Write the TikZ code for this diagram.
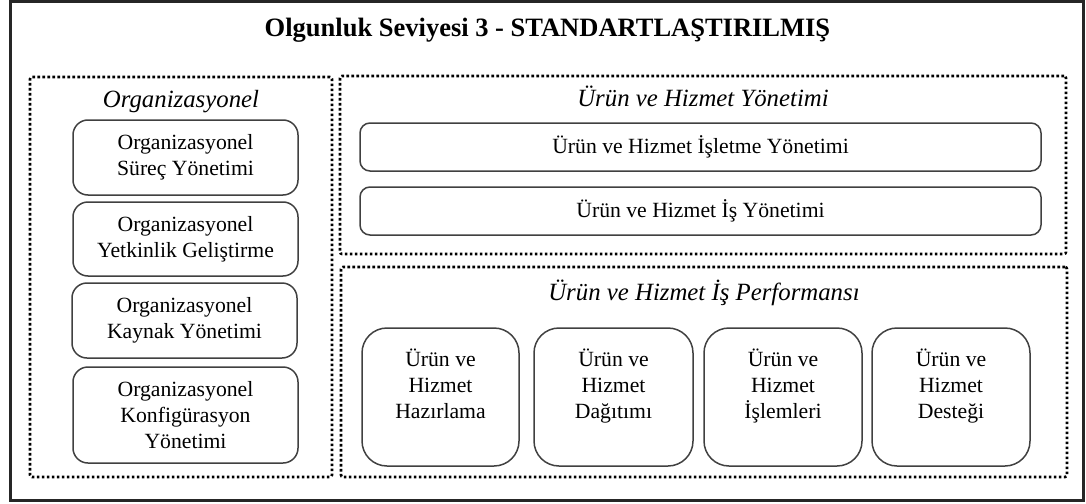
\documentclass[tikz,border=0pt]{standalone}
\usepackage{fontspec}
\setmainfont{Liberation Serif}
\begin{document}
\begin{tikzpicture}[x=1pt,y=-1pt,
  frame/.style={draw=black!85, line width=3pt},
  group/.style={draw=black, line width=2.6pt, dash pattern=on 2.6pt off 2.4pt,
    rounded corners=2pt, inner sep=0pt},
  item/.style={draw=black!75, line width=1.5pt, rounded corners=#1, fill=white,
    align=center, inner sep=0pt, font=\fontsize{21.7}{26}\selectfont},
  heading/.style={anchor=base, inner sep=0pt, font=\fontsize{24.8}{28}\selectfont\itshape},
  title/.style={anchor=base, inner sep=0pt, font=\fontsize{26.5}{30}\selectfont\bfseries}
]
\useasboundingbox (0,0) rectangle (1086,503);

% outer frame and title
\node[frame, minimum width=1073, minimum height=498.5, inner sep=0pt] (outer) at (546.5,250.75) {};
\node[title] (ttl) at (547.5,36.7) {Olgunluk Seviyesi 3 - STANDARTLAŞTIRILMIŞ};

% dotted groups
\node[group, minimum width=302, minimum height=400] (org) at (181,277) {};
\node[group, minimum width=726, minimum height=178] (yon) at (703,165) {};
\node[group, minimum width=726, minimum height=210] (perf) at (704,372) {};

% group headings
\node[heading] (orgh) at (181,107) {Organizasyonel};
\node[heading] (yonh) at (703,106) {Ürün ve Hizmet Yönetimi};
\node[heading] (perfh) at (704,300) {Ürün ve Hizmet İş Performansı};

% organisational processes
\node[item=15pt, minimum width=225, minimum height=75] (o1) at (185.5,157.5) {Organizasyonel\\Süreç Yönetimi};
\node[item=15pt, minimum width=225, minimum height=74] (o2) at (185.5,239) {Organizasyonel\\Yetkinlik Geliştirme};
\node[item=15pt, minimum width=225, minimum height=75] (o3) at (184.5,320.5) {Organizasyonel\\Kaynak Yönetimi};
\node[item=15pt, minimum width=225, minimum height=96] (o4) at (185.5,415) {Organizasyonel\\Konfigürasyon\\Yönetimi};

% product and service management
\node[item=10pt, minimum width=681, minimum height=48] (y1) at (700.5,147) {Ürün ve Hizmet İşletme Yönetimi};
\node[item=10pt, minimum width=681, minimum height=48] (y2) at (700.5,211) {Ürün ve Hizmet İş Yönetimi};

% product and service performance
\node[item=25pt, minimum width=157, minimum height=138] (p1) at (440.5,397) {Ürün ve\\Hizmet\\Hazırlama\\\mbox{}};
\node[item=25pt, minimum width=159, minimum height=138] (p2) at (613.5,397) {Ürün ve\\Hizmet\\Dağıtımı\\\mbox{}};
\node[item=25pt, minimum width=158, minimum height=138] (p3) at (783,397) {Ürün ve\\Hizmet\\İşlemleri\\\mbox{}};
\node[item=25pt, minimum width=158, minimum height=138] (p4) at (951,397) {Ürün ve\\Hizmet\\Desteği\\\mbox{}};
\end{tikzpicture}
\end{document}
